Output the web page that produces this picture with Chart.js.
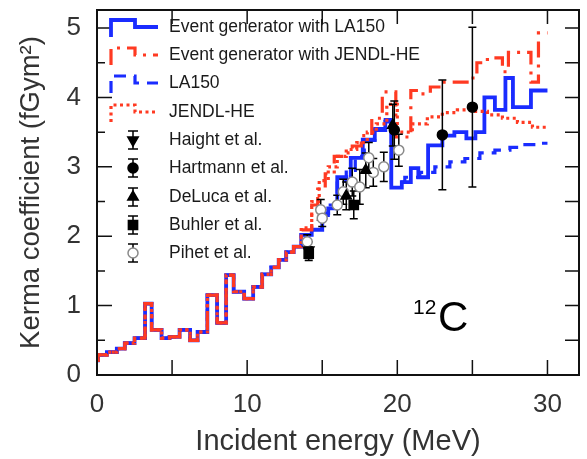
<!DOCTYPE html>
<html>
<head>
<meta charset="utf-8">
<script src="https://cdn.jsdelivr.net/npm/chart.js@4/dist/chart.umd.min.js"></script>
<style>
  body { margin: 0; background: #fff; }
  #wrap { width: 587px; height: 459px; }
</style>
</head>
<body>
<div id="wrap"><canvas id="kerma" width="587" height="459"></canvas></div>
<script>
// Datos: bordes de los escalones (MeV) y valores (fGy m2)
const lowE = [0, 0.07, 0.66, 1.32, 1.85, 2.5, 3.2, 3.64, 4.3, 4.83, 5.5, 6.2, 6.7, 7.35, 8.0, 8.6, 9.1, 9.8, 10.4, 11.0, 11.6, 12.1, 12.6, 13.1];
const lowK = [0.21, 0.29, 0.33, 0.38, 0.46, 0.53, 1.03, 0.65, 0.53, 0.55, 0.65, 0.5, 0.62, 1.15, 0.75, 1.44, 1.2, 1.1, 1.27, 1.45, 1.55, 1.66, 1.77, 1.85];

// Event generator with LA150
const egLaE = [13.6, 14.3, 15.0, 15.4, 16.0, 16.6, 16.9, 17.7, 18.5, 19.2, 19.6, 20.3, 20.9, 21.4, 22.05, 23.0, 23.8, 24.6, 25.2, 25.8, 26.5, 27.2, 27.7, 28.9, 30.0];
const egLaK = [2.02, 2.09, 2.33, 2.4, 2.85, 2.8, 3.13, 3.39, 3.53, 3.65, 2.7, 2.78, 2.98, 2.85, 3.31, 3.45, 3.5, 3.41, 3.5, 4.0, 3.82, 4.28, 3.86, 4.1];

// Event generator with JENDL-HE
const egJeE = [13.6, 14.3, 14.7, 15.2, 15.8, 16.4, 17.0, 17.6, 18.3, 19.0, 19.9, 20.9, 21.6, 22.2, 23.0, 24.8, 25.3, 26.0, 27.0, 27.4, 28.9, 29.4, 30.0];
const egJeK = [2.09, 2.45, 2.68, 2.9, 3.15, 3.2, 3.3, 3.45, 3.7, 4.08, 3.43, 4.1, 4.05, 4.15, 4.22, 4.28, 4.5, 4.57, 4.37, 4.65, 4.22, 4.93];

// LA150
const laE = [13.6, 14.3, 15.0, 15.4, 16.0, 16.6, 17.2, 17.8, 18.5, 19.2, 19.6, 20.5, 21.5, 22.5, 23.5, 24.5, 25.5, 26.5, 27.5, 28.5, 29.5, 30.0];
const laK = [2.02, 2.1, 2.3, 2.45, 2.8, 2.95, 3.15, 3.38, 3.55, 3.68, 2.78, 2.85, 2.92, 3.0, 3.07, 3.12, 3.2, 3.24, 3.28, 3.32, 3.34];

// JENDL-HE
const jeE = [13.6, 14.3, 14.8, 15.4, 16.0, 16.6, 17.3, 18.0, 18.6, 19.3, 20.0, 21.0, 22.0, 23.0, 24.0, 25.0, 26.0, 27.0, 28.0, 29.0, 30.0];
const jeK = [2.12, 2.5, 2.8, 3.0, 3.15, 3.25, 3.35, 3.5, 3.62, 3.9, 3.5, 3.62, 3.72, 3.78, 3.82, 3.8, 3.75, 3.7, 3.64, 3.57];

// Medidas (energía, kerma, error)
const haightX = [14.1];
const haightY = [1.8];
const haightErr = [0.12];
const hartX = [19.8, 23.0, 25.0];
const hartY = [3.53, 3.46, 3.86];
const hartErr = [0.42, 0.79, 1.15];
const delucaX = [16.6, 17.9, 19.7];
const delucaY = [2.58, 2.95, 3.6];
const delucaErr = [0.2, 0.25, 0.3];
const buhlerX = [14.1, 17.1];
const buhlerY = [1.75, 2.45];
const buhlerErr = [0.1, 0.2];
const pihetX = [14.0, 14.9, 15.0, 16.0, 16.4, 17.0, 17.5, 18.1, 18.4, 19.1, 20.1];
const pihetY = [1.92, 2.38, 2.26, 2.45, 2.64, 2.78, 2.71, 3.13, 2.92, 3.0, 3.24];
const pihetErr = [0.1, 0.15, 0.12, 0.14, 0.18, 0.2, 0.25, 0.22, 0.2, 0.21, 0.23];

const xTicks = [0, 10, 20, 30];
const yTicks = [0, 1, 2, 3, 4, 5];

const BLUE = '#1a2cff';
const RED = '#ff3a22';
const FONT = "'Liberation Sans', Arial, sans-serif";

// Escalones: punto en cada borde izquierdo, último punto al final
function steps(E, K) {
  const es = lowE.concat(E), ks = lowK.concat(K);
  return es.map((e, i) => ({ x: e, y: ks[Math.min(i, ks.length - 1)] }));
}
function pts(X, Y) { return X.map((x, i) => ({ x: x, y: Y[i] })); }

const lines = [
  { label: 'Event generator with LA150', data: steps(egLaE, egLaK), color: BLUE, width: 3.8, dash: [] },
  { label: 'Event generator with JENDL-HE', data: steps(egJeE, egJeK), color: RED, width: 3.2, dash: [16, 7, 3, 7] },
  { label: 'LA150', data: steps(laE, laK), color: BLUE, width: 3.2, dash: [12, 8] },
  { label: 'JENDL-HE', data: steps(jeE, jeK), color: RED, width: 3.2, dash: [3, 3.5] }
];

const meas = [
  { label: 'Haight et al.', X: haightX, Y: haightY, E: haightErr, style: 'triangle', rot: 180, r: 6, fill: '#000', stroke: '#000' },
  { label: 'Hartmann et al.', X: hartX, Y: hartY, E: hartErr, style: 'circle', rot: 0, r: 5, fill: '#000', stroke: '#000' },
  { label: 'DeLuca et al.', X: delucaX, Y: delucaY, E: delucaErr, style: 'triangle', rot: 0, r: 6, fill: '#000', stroke: '#000' },
  { label: 'Buhler et al.', X: buhlerX, Y: buhlerY, E: buhlerErr, style: 'rect', rot: 0, r: 6.5, fill: '#000', stroke: '#000' },
  { label: 'Pihet et al.', X: pihetX, Y: pihetY, E: pihetErr, style: 'circle', rot: 0, r: 5, fill: '#fff', stroke: '#8a8a8a' }
];

// Datasets: medidas primero (se dibujan encima), luego curvas
const datasets = [];
meas.forEach(m => datasets.push({
  label: m.label, data: pts(m.X, m.Y), showLine: false,
  pointStyle: m.style, rotation: m.rot, pointRadius: m.r,
  pointBackgroundColor: m.fill, pointBorderColor: m.stroke, pointBorderWidth: 1.5
}));
// orden: rojo guion-punto arriba, azul sólido abajo
[1, 3, 2, 0].forEach(i => {
  const l = lines[i];
  datasets.push({
    label: l.label, data: l.data, stepped: true, borderColor: l.color,
    borderWidth: l.width, borderDash: l.dash, pointRadius: 0, fill: false
  });
});

// Barras de error debajo de los marcadores
const errorBars = {
  id: 'errorBars',
  beforeDatasetDraw(chart, args) {
    if (args.index !== meas.length - 1) return;
    const { ctx, scales: { x, y } } = chart;
    ctx.save();
    ctx.strokeStyle = '#000';
    ctx.lineWidth = 1.5;
    meas.forEach(m => {
      m.X.forEach((v, i) => {
        const px = x.getPixelForValue(v);
        const top = y.getPixelForValue(m.Y[i] + m.E[i]);
        const bot = y.getPixelForValue(m.Y[i] - m.E[i]);
        ctx.beginPath();
        ctx.moveTo(px, top); ctx.lineTo(px, bot);
        ctx.moveTo(px - 4, top); ctx.lineTo(px + 4, top);
        ctx.moveTo(px - 4, bot); ctx.lineTo(px + 4, bot);
        ctx.stroke();
      });
    });
    ctx.restore();
  }
};

function marker(ctx, m, x, y) {
  ctx.beginPath();
  if (m.style === 'circle') {
    ctx.arc(x, y, m.r, 0, Math.PI * 2);
  } else if (m.style === 'rect') {
    const s = m.r * Math.SQRT1_2;
    ctx.rect(x - s, y - s, 2 * s, 2 * s);
  } else {
    let a = m.rot * Math.PI / 180;
    for (let k = 0; k < 3; k++) {
      const px = x + Math.sin(a) * m.r, py = y - Math.cos(a) * m.r;
      k ? ctx.lineTo(px, py) : ctx.moveTo(px, py);
      a += 2 * Math.PI / 3;
    }
    ctx.closePath();
  }
  ctx.fillStyle = m.fill;
  ctx.strokeStyle = m.stroke;
  ctx.lineWidth = 1.5;
  ctx.fill();
  ctx.stroke();
}

// Marco, marcas hacia dentro, leyenda y etiqueta 12C
const frame = {
  id: 'frame',
  afterDraw(chart) {
    const { ctx, chartArea: a, scales: { x, y } } = chart;
    ctx.save();
    ctx.strokeStyle = '#111';
    ctx.lineWidth = 1.5;
    for (let v = 0; v <= 30; v += 5) {
      const px = x.getPixelForValue(v);
      ctx.beginPath();
      ctx.moveTo(px, a.bottom); ctx.lineTo(px, a.bottom - 15);
      ctx.moveTo(px, a.top); ctx.lineTo(px, a.top + 14);
      ctx.stroke();
    }
    for (let v = 0; v <= 5; v += 0.5) {
      const py = y.getPixelForValue(v);
      const len = Number.isInteger(v) ? 15 : 8;
      ctx.beginPath();
      ctx.moveTo(a.left, py); ctx.lineTo(a.left + len, py);
      ctx.moveTo(a.right, py); ctx.lineTo(a.right - 14, py);
      ctx.stroke();
    }
    ctx.lineWidth = 2;
    ctx.strokeRect(a.left, a.top, a.right - a.left, a.bottom - a.top);

    // leyenda
    const rows = [27, 55, 83, 112, 140, 168, 197, 225, 253];
    ctx.font = '17.5px ' + FONT;
    ctx.textBaseline = 'middle';
    ctx.textAlign = 'left';
    lines.forEach((l, i) => {
      const r = rows[i];
      ctx.beginPath();
      ctx.setLineDash(l.dash);
      ctx.strokeStyle = l.color;
      ctx.lineWidth = l.width;
      ctx.moveTo(111, r + 10); ctx.lineTo(111, r - 7);
      ctx.lineTo(135, r - 7); ctx.lineTo(135, r); ctx.lineTo(158, r);
      ctx.stroke();
      ctx.setLineDash([]);
      ctx.fillStyle = '#1a1a1a';
      ctx.fillText(l.label, 169, r);
    });
    meas.forEach((m, i) => {
      const r = rows[i + 4];
      ctx.beginPath();
      ctx.strokeStyle = '#000';
      ctx.lineWidth = 1.5;
      ctx.moveTo(133, r - 9); ctx.lineTo(133, r + 9);
      ctx.moveTo(128, r - 9); ctx.lineTo(138, r - 9);
      ctx.moveTo(128, r + 9); ctx.lineTo(138, r + 9);
      ctx.stroke();
      marker(ctx, m, 133, r);
      ctx.fillStyle = '#1a1a1a';
      ctx.fillText(m.label, 169, r);
    });

    // núcleo
    ctx.fillStyle = '#000';
    ctx.textBaseline = 'alphabetic';
    ctx.font = '21px ' + FONT;
    ctx.fillText('12', 413, 314);
    ctx.font = '42px ' + FONT;
    ctx.fillText('C', 438, 331);
    ctx.restore();
  }
};

const ctxK = document.getElementById('kerma').getContext('2d');
new Chart(ctxK, {
  type: 'line',
  data: { datasets: datasets },
  options: {
    responsive: false,
    animation: false,
    devicePixelRatio: 1,
    layout: { padding: { top: 10, right: 5, left: 0, bottom: 0 } },
    plugins: { legend: { display: false }, tooltip: { enabled: false } },
    scales: {
      x: {
        type: 'linear', min: 0, max: 32.1,
        grid: { display: false }, border: { display: false },
        afterBuildTicks: s => { s.ticks = xTicks.map(v => ({ value: v })); },
        afterFit: s => { s.height = 84; s.paddingLeft = 0; s.paddingRight = 0; },
        ticks: { font: { family: FONT, size: 26 }, color: '#333', padding: 6, maxRotation: 0, autoSkip: false },
        title: { display: true, text: 'Incident energy (MeV)', color: '#333', font: { family: FONT, size: 29 }, padding: { top: 0, bottom: 0 } }
      },
      y: {
        type: 'linear', min: 0, max: 5.26,
        grid: { display: false }, border: { display: false },
        afterBuildTicks: s => { s.ticks = yTicks.map(v => ({ value: v })); },
        afterFit: s => { s.width = 97; s.paddingTop = 0; s.paddingBottom = 0; },
        ticks: { font: { family: FONT, size: 26 }, color: '#333', padding: 8 },
        title: { display: true, text: 'Kerma coefficient (fGym²)', color: '#333', font: { family: FONT, size: 27.5 }, padding: { top: 15, bottom: 0 } }
      }
    }
  },
  plugins: [errorBars, frame]
});
</script>
</body>
</html>
